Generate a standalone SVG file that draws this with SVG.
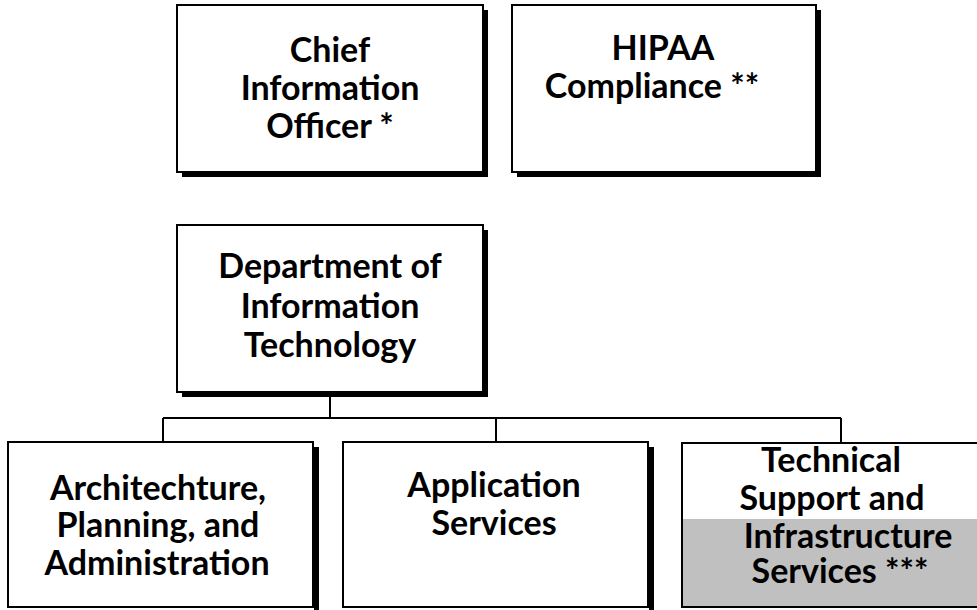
<svg xmlns="http://www.w3.org/2000/svg" width="977" height="610" viewBox="0 0 977 610">
<style>
.box{fill:#fff;stroke:#000;stroke-width:2}
.sh{fill:#000}
.t{font-family:Lato,"Open Sans","Liberation Sans",sans-serif;font-weight:700;font-size:34px;fill:#000;text-anchor:middle}
.c{fill:none;stroke:#000;stroke-width:2}
</style>
<rect width="977" height="610" fill="#fff"/>
<g id="connectors">
<path class="c" d="M330 392V418M163 418H841M163 418V442M496 418V442M841 418V443"/>
</g>
<g id="cio">
<rect class="sh" x="182" y="10" width="306" height="167"/>
<rect class="box" x="177" y="5" width="306" height="167"/>
<text class="t" x="330" y="62">Chief</text>
<text class="t" x="330" y="100">Information</text>
<text class="t" x="330" y="138">Officer *</text>
</g>
<g id="hipaa">
<rect class="sh" x="517" y="10" width="304" height="167"/>
<rect class="box" x="512" y="5" width="304" height="167"/>
<text class="t" x="663" y="60">HIPAA</text>
<text class="t" x="652" y="98">Compliance **</text>
</g>
<g id="doit">
<rect class="sh" x="182" y="230" width="306" height="167"/>
<rect class="box" x="177" y="225" width="306" height="167"/>
<text class="t" x="330" y="278">Department of</text>
<text class="t" x="330" y="318">Information</text>
<text class="t" x="330" y="357">Technology</text>
</g>
<g id="apa">
<rect class="sh" x="314" y="447" width="5" height="170"/>
<rect class="box" x="8" y="442" width="305" height="165"/>
<text class="t" x="158" y="500">Architechture,</text>
<text class="t" x="158" y="537">Planning, and</text>
<text class="t" x="157" y="575">Administration</text>
</g>
<g id="apps">
<rect class="sh" x="649" y="447" width="5" height="170"/>
<rect class="box" x="343" y="442" width="305" height="165"/>
<text class="t" x="494" y="497">Application</text>
<text class="t" x="494" y="535">Services</text>
</g>
<g id="tsis">
<rect x="682" y="519" width="310" height="88" fill="#c0c0c0"/>
<rect x="682" y="443" width="310" height="164" fill="none" stroke="#000" stroke-width="2"/>
<text class="t" x="831" y="472">Technical</text>
<text class="t" x="832" y="510">Support and</text>
<text class="t" x="848" y="548">Infrastructure</text>
<text class="t" x="840" y="583">Services ***</text>
</g>
</svg>
